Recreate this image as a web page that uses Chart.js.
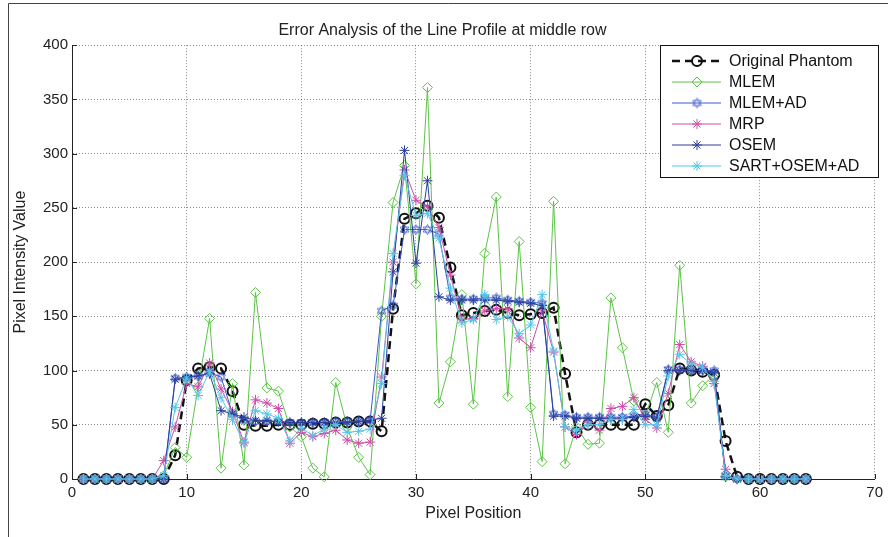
<!DOCTYPE html>
<html>
<head>
<meta charset="utf-8">
<title>Error Analysis of the Line Profile at middle row</title>
<script src="https://cdn.jsdelivr.net/npm/chart.js@4.4.1/dist/chart.umd.min.js"></script>
<style>
  html, body { margin: 0; padding: 0; background: #fff; }
  #wrap { width: 888px; height: 537px; position: relative; }
</style>
</head>
<body>
<div id="wrap"><canvas id="profile"></canvas></div>
<script>
// pixel index along the middle row
const pixelPos = Array.from({ length: 64 }, (_, i) => i + 1);

const xTickValues = [0, 10, 20, 30, 40, 50, 60, 70];
const yTickValues = [0, 50, 100, 150, 200, 250, 300, 350, 400];

const originalPhantom = [0, 0, 0, 0, 0, 0, 0, 0, 22, 91, 102, 103, 102, 81, 50,
  49, 49, 50, 50, 50, 51, 51, 52, 52, 53, 53,
  44, 157, 240, 245, 252, 241, 195, 151,
  153, 155, 156, 153, 151, 152, 153, 158, 97, 43,
  50, 50, 50, 50, 50, 69, 58, 68, 102, 100, 99, 96, 35, 2,
  0, 0, 0, 0, 0, 0];

const mlem = [0, 0, 0, 0, 0, 0, 0, 3, 29, 20, 85, 148, 10, 88, 13,
  172, 84, 81, 48, 39, 10, 2, 89, 48, 20, 4,
  150, 255, 289, 180, 361, 70, 108, 170,
  69, 208, 260, 76, 219, 66, 16, 256, 14, 48,
  32, 33, 167, 121, 72, 58, 89, 43, 197, 70, 86, 96, 2,
  0, 0, 0, 0, 0, 0, 0];

const mlemAd = [0, 0, 0, 0, 0, 0, 0, 0, 93, 94, 95, 98, 94, 60, 54,
  53, 53, 53, 52, 52, 52, 52, 53, 53, 53, 54,
  155, 160, 230, 230, 230, 226, 167, 166,
  166, 167, 167, 165, 164, 163, 162, 60, 59, 57,
  57, 57, 57, 57, 58, 60, 57, 101, 101, 100, 100, 100, 3,
  0, 0, 0, 0, 0, 0, 0];

const mrp = [0, 0, 0, 0, 0, 0, 0, 17, 48, 88, 85, 107, 83, 62, 34,
  73, 70, 65, 33, 43, 39, 42, 45, 36, 33, 34,
  94, 200, 285, 257, 251, 232, 188, 147,
  148, 155, 157, 157, 130, 121, 155, 117, 48, 41,
  52, 45, 65, 67, 75, 55, 47, 79, 124, 108, 104, 88, 9,
  0, 0, 0, 0, 0, 0, 0];

const osem = [0, 0, 0, 0, 0, 0, 0, 0, 92, 93, 95, 97, 63, 60, 57,
  54, 54, 53, 52, 52, 52, 52, 52, 52, 53, 54,
  56, 191, 303, 199, 275, 168, 165, 165,
  165, 165, 165, 164, 163, 162, 160, 58, 58, 56,
  56, 56, 56, 56, 57, 58, 56, 100, 100, 100, 100, 98, 2,
  0, 0, 0, 0, 0, 0, 0];

const sartOsemAd = [0, 0, 0, 0, 0, 0, 0, 3, 66, 93, 77, 99, 75, 55, 33,
  63, 60, 56, 35, 47, 40, 46, 50, 43, 44, 46,
  88, 208, 280, 243, 245, 222, 176, 144,
  147, 170, 147, 150, 134, 142, 170, 118, 48, 45,
  50, 50, 55, 55, 64, 50, 50, 95, 115, 106, 103, 90, 3,
  0, 0, 0, 0, 0, 0, 0];

const FONT = '"Liberation Sans", Arial, Helvetica, sans-serif';
Chart.defaults.font.family = FONT;
Chart.defaults.color = '#222';

// six-pointed star marker (MATLAB 'h')
function hexagram(color) {
  const c = document.createElement('canvas');
  c.width = 13; c.height = 13;
  const g = c.getContext('2d');
  g.strokeStyle = color;
  g.lineWidth = 0.8;
  const r = 5;
  for (let k = 0; k < 2; k++) {
    g.beginPath();
    for (let j = 0; j < 3; j++) {
      const a = -Math.PI / 2 + k * Math.PI + j * 2 * Math.PI / 3;
      const px = 6.5 + r * Math.cos(a), py = 6.5 + r * Math.sin(a);
      if (j === 0) g.moveTo(px, py); else g.lineTo(px, py);
    }
    g.closePath();
    g.stroke();
  }
  return c;
}

function toPoints(values) {
  return pixelPos.map((x, i) => ({ x: x, y: values[i] }));
}

function series(label, values, color, pointStyle, order, extra) {
  return Object.assign({
    label: label,
    data: toPoints(values),
    borderColor: color,
    borderWidth: 1,
    pointStyle: pointStyle,
    pointRadius: 5,
    pointBorderColor: color,
    pointBackgroundColor: 'rgba(0,0,0,0)',
    pointBorderWidth: 1,
    tension: 0,
    clip: false,
    order: order
  }, extra || {});
}

const datasets = [
  series('Original Phantom', originalPhantom, '#111111', 'circle', 6,
    { borderWidth: 2.5, borderDash: [8, 5], pointBorderWidth: 2, pointRadius: 5 }),
  series('MLEM', mlem, '#5cc447', 'rectRot', 5),
  series('MLEM+AD', mlemAd, '#3a5bcc', hexagram('#3a5bcc'), 4),
  series('MRP', mrp, '#cc4ea8', 'star', 3),
  series('OSEM', osem, '#2c3f9e', 'star', 2),
  series('SART+OSEM+AD', sartOsemAd, '#55c6e6', 'star', 1)
];

const frame = {
  id: 'frame',
  beforeDraw(chart) {
    const ctx = chart.ctx;
    ctx.save();
    ctx.fillStyle = '#fff';
    ctx.fillRect(0, 0, chart.width, chart.height);
    ctx.strokeStyle = '#444';
    ctx.lineWidth = 1;
    ctx.beginPath();
    ctx.moveTo(8.5, chart.height);
    ctx.lineTo(8.5, 3.5);
    ctx.lineTo(chart.width, 3.5);
    ctx.stroke();
    ctx.restore();
  }
};

// MATLAB style ticks pointing into the axes
const inwardTicks = {
  id: 'inwardTicks',
  afterDraw(chart) {
    const ctx = chart.ctx;
    const xs = chart.scales.x, ys = chart.scales.y;
    const area = chart.chartArea;
    ctx.save();
    ctx.strokeStyle = '#222';
    ctx.lineWidth = 1;
    ctx.beginPath();
    xs.ticks.forEach(t => {
      const px = Math.round(xs.getPixelForValue(t.value)) + 0.5;
      ctx.moveTo(px, area.bottom);
      ctx.lineTo(px, area.bottom - 5);
    });
    ys.ticks.forEach(t => {
      const py = Math.round(ys.getPixelForValue(t.value)) + 0.5;
      ctx.moveTo(area.left, py);
      ctx.lineTo(area.left + 5, py);
    });
    ctx.stroke();
    ctx.restore();
  }
};

const boxLegend = {
  id: 'boxLegend',
  afterDraw(chart) {
    const ctx = chart.ctx;
    ctx.save();
    ctx.fillStyle = '#fff';
    ctx.fillRect(660.5, 45.5, 218, 132);
    ctx.strokeStyle = '#111';
    ctx.lineWidth = 1;
    ctx.strokeRect(660.5, 45.5, 218, 132);
    ctx.font = '16px ' + FONT;
    ctx.textBaseline = 'middle';
    chart.data.datasets.forEach((ds, i) => {
      const y = 61 + i * 21;
      ctx.strokeStyle = ds.borderColor;
      ctx.lineWidth = ds.borderWidth;
      ctx.setLineDash(ds.borderDash || []);
      ctx.beginPath();
      ctx.moveTo(672, y);
      ctx.lineTo(721, y);
      ctx.stroke();
      ctx.setLineDash([]);
      ctx.strokeStyle = ds.pointBorderColor;
      ctx.fillStyle = 'rgba(0,0,0,0)';
      ctx.lineWidth = ds.pointBorderWidth;
      Chart.helpers.drawPoint(ctx, {
        pointStyle: ds.pointStyle, radius: ds.pointRadius,
        rotation: 0, borderWidth: ds.pointBorderWidth
      }, 697, y);
      ctx.fillStyle = '#111';
      ctx.fillText(ds.label, 729, y + 1);
    });
    ctx.restore();
  }
};

const gridStyle = { color: 'rgba(0,0,0,0.45)', lineWidth: 1, drawTicks: false, borderDash: [1, 2] };
const borderStyle = { display: true, color: '#222', width: 1, dash: [1, 2] };

new Chart(document.getElementById('profile'), {
  type: 'line',
  data: { datasets: datasets },
  options: {
    responsive: true,
    maintainAspectRatio: false,
    animation: false,
    layout: { padding: { left: 8, right: 11, top: 0, bottom: 12 } },
    plugins: {
      legend: { display: false },
      tooltip: { enabled: false },
      title: {
        display: true,
        text: 'Error Analysis of the Line Profile at middle row',
        color: '#222',
        font: { size: 16, weight: 'normal' },
        padding: { top: 21, bottom: 5 }
      }
    },
    scales: {
      x: {
        type: 'linear',
        min: xTickValues[0],
        max: xTickValues[xTickValues.length - 1],
        ticks: { stepSize: 10, font: { size: 15 }, color: '#222', padding: 5, maxRotation: 0 },
        grid: gridStyle,
        border: borderStyle,
        title: { display: true, text: 'Pixel Position', font: { size: 16 }, color: '#222', padding: 2 },
        afterFit(scale) { scale.height = 46; }
      },
      y: {
        min: yTickValues[0],
        max: yTickValues[yTickValues.length - 1],
        ticks: { stepSize: 50, font: { size: 15 }, color: '#222', padding: 4 },
        grid: gridStyle,
        border: borderStyle,
        title: { display: true, text: 'Pixel Intensity Value', font: { size: 16 }, color: '#222', padding: 3 },
        afterFit(scale) { scale.width = 64; }
      }
    }
  },
  plugins: [frame, inwardTicks, boxLegend]
});
</script>
</body>
</html>
